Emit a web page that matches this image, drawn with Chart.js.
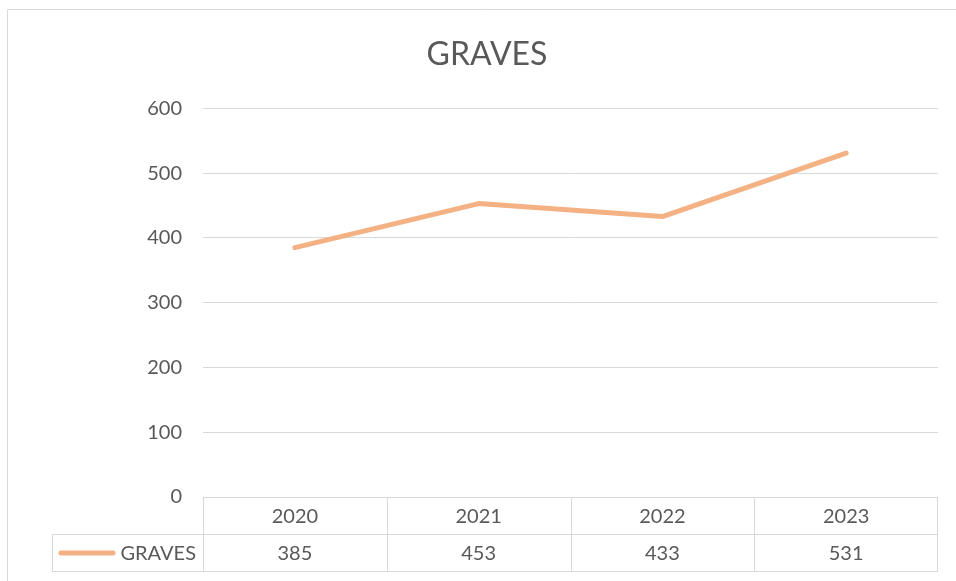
<!DOCTYPE html>
<html>
<head>
<meta charset="utf-8">
<title>GRAVES</title>
<script src="https://cdn.jsdelivr.net/npm/chart.js@4"></script>
<style>
    html, body { margin: 0; padding: 0; background: #ffffff; }
    #wrap { width: 956px; height: 581px; position: relative; }
</style>
</head>
<body>
<div id="wrap"><canvas id="graves-chart"></canvas></div>
<script>
"use strict";

// Chart data.
const seriesName = "GRAVES";
const years = ["2020", "2021", "2022", "2023"];
const graves = [385, 453, 433, 531];
const yTicks = [0, 100, 200, 300, 400, 500, 600];

const textColor = "#595959";
const lineColor = "#F4B183";
const gridColor = "#D9D9D9";
const fontFamily = "Lato, 'Liberation Sans', sans-serif";

// Light frame round the chart (only the top and left edges are in the picture).
const chartFrame = {
    id: "chartFrame",
    beforeDraw(chart, args, options) {
        const ctx = chart.ctx;
        ctx.save();
        ctx.strokeStyle = options.color;
        ctx.lineWidth = 1;
        ctx.beginPath();
        ctx.moveTo(options.left + 0.5, chart.height);
        ctx.lineTo(options.left + 0.5, options.top + 0.5);
        ctx.lineTo(chart.width, options.top + 0.5);
        ctx.stroke();
        ctx.restore();
    }
};

// Excel-style data table under the plot, with its columns taken from the x scale.
const dataTable = {
    id: "dataTable",
    afterDraw(chart, args, options) {
        const ctx = chart.ctx;
        const area = chart.chartArea;
        const xScale = chart.scales.x;
        const dataset = chart.data.datasets[0];

        const top = Math.round(area.bottom) + 0.5;
        const mid = top + options.rowHeight;
        const bottom = mid + options.rowHeight;
        const half = (xScale.getPixelForValue(1) - xScale.getPixelForValue(0)) / 2;

        ctx.save();
        ctx.strokeStyle = options.lineColor;
        ctx.lineWidth = 1;
        ctx.beginPath();
        ctx.moveTo(area.left, top);
        ctx.lineTo(area.right, top);
        ctx.moveTo(options.labelLeft, mid);
        ctx.lineTo(area.right, mid);
        ctx.moveTo(options.labelLeft, bottom);
        ctx.lineTo(area.right, bottom);
        ctx.moveTo(options.labelLeft + 0.5, mid);
        ctx.lineTo(options.labelLeft + 0.5, bottom);

        chart.data.labels.forEach((label, i) => {
            const edge = Math.round(xScale.getPixelForValue(i) - half) + 0.5;
            ctx.moveTo(edge, top);
            ctx.lineTo(edge, bottom);
        });
        const lastEdge = Math.round(area.right) - 0.5;
        ctx.moveTo(lastEdge, top);
        ctx.lineTo(lastEdge, bottom);
        ctx.stroke();

        ctx.fillStyle = options.textColor;
        ctx.font = options.font;
        ctx.textAlign = "center";
        ctx.textBaseline = "middle";

        chart.data.labels.forEach((label, i) => {
            const x = xScale.getPixelForValue(i);
            ctx.fillText(label, x, (top + mid) / 2 + 1);
            ctx.fillText(String(dataset.data[i]), x, (mid + bottom) / 2 + 1);
        });

        // Series key: a short line in the series colour followed by its name.
        const keyY = (mid + bottom) / 2;
        ctx.strokeStyle = dataset.borderColor;
        ctx.lineWidth = dataset.borderWidth;
        ctx.lineCap = "round";
        ctx.beginPath();
        ctx.moveTo(options.keyStart, keyY);
        ctx.lineTo(options.keyEnd, keyY);
        ctx.stroke();

        ctx.textAlign = "right";
        ctx.fillText(dataset.label, area.left - 7, keyY + 1);
        ctx.restore();
    }
};

const data = {
    labels: years,
    datasets: [{
        label: seriesName,
        data: graves,
        borderColor: lineColor,
        backgroundColor: lineColor,
        borderWidth: 5,
        borderCapStyle: "round",
        borderJoinStyle: "round",
        pointRadius: 0,
        tension: 0
    }]
};

const config = {
    type: "line",
    data: data,
    options: {
        responsive: true,
        maintainAspectRatio: false,
        animation: false,
        layout: {
            // The left padding keeps the title centred the way the original (wider) chart had it.
            padding: { left: 36, right: 18, top: 0, bottom: 84 }
        },
        scales: {
            x: {
                display: false,
                offset: true
            },
            y: {
                min: yTicks[0],
                max: yTicks[yTicks.length - 1],
                afterFit(scale) {
                    scale.width = 167;
                },
                ticks: {
                    stepSize: yTicks[1] - yTicks[0],
                    padding: 21,
                    color: textColor,
                    font: { family: fontFamily, size: 20 }
                },
                grid: {
                    color: gridColor,
                    drawTicks: false
                },
                border: {
                    display: false
                }
            }
        },
        plugins: {
            legend: { display: false },
            tooltip: { enabled: false },
            title: {
                display: true,
                text: seriesName,
                color: textColor,
                font: { family: fontFamily, size: 32, weight: "normal" },
                padding: { top: 35, bottom: 35 }
            },
            chartFrame: {
                color: gridColor,
                left: 7,
                top: 9
            },
            dataTable: {
                rowHeight: 37,
                labelLeft: 52,
                keyStart: 61,
                keyEnd: 113,
                lineColor: gridColor,
                textColor: textColor,
                font: "20px " + fontFamily
            }
        }
    },
    plugins: [chartFrame, dataTable]
};

new Chart(document.getElementById("graves-chart"), config);
</script>
</body>
</html>
